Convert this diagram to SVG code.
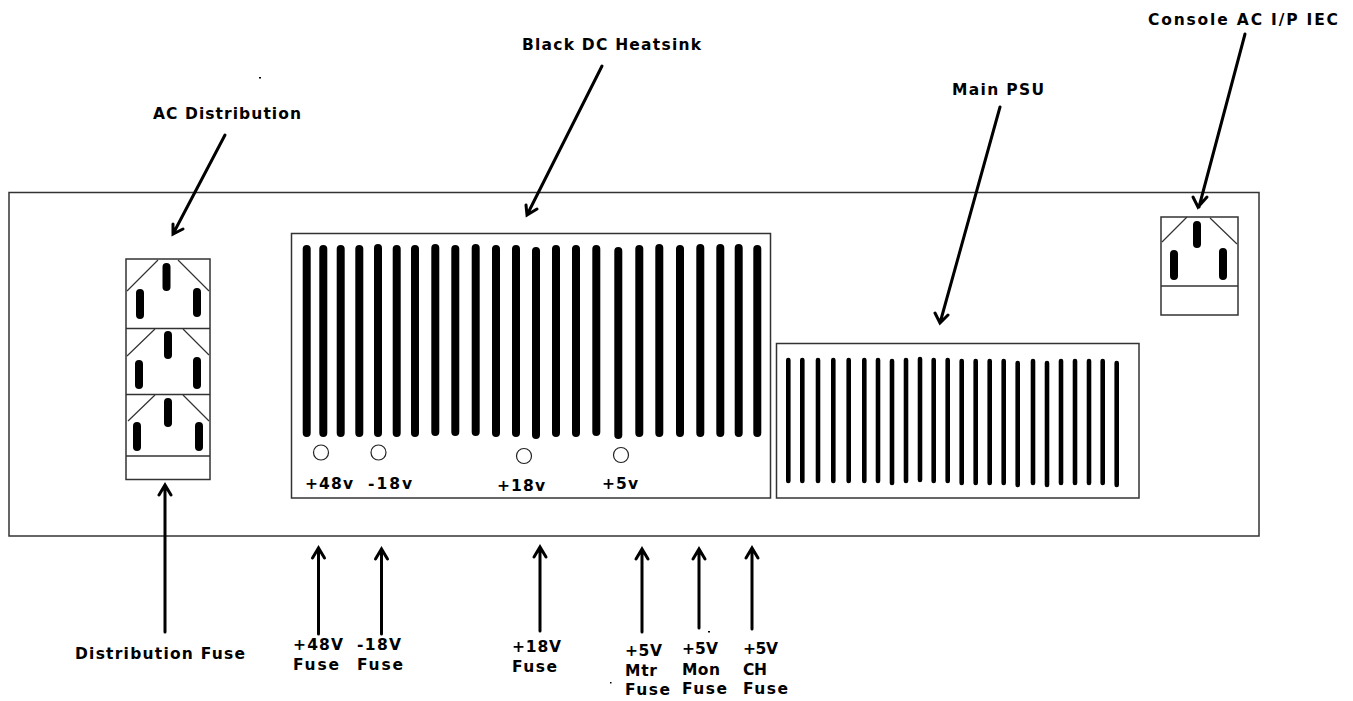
<svg xmlns="http://www.w3.org/2000/svg" width="1353" height="701" viewBox="0 0 1353 701">
<style>
.box{fill:none;stroke:#333;stroke-width:1.5}
.thin{fill:none;stroke:#333;stroke-width:1.2}
.hs{fill:none;stroke:#000;stroke-width:8;stroke-linecap:round}
.pin{fill:none;stroke:#000;stroke-width:8;stroke-linecap:round}
.ps{fill:none;stroke:#000;stroke-width:4.6;stroke-linecap:round}
.arrow{fill:none;stroke:#000;stroke-width:3;stroke-linecap:round;stroke-linejoin:miter}
.hole{fill:#fff;stroke:#222;stroke-width:1.2}
text{font-family:"DejaVu Sans","Liberation Sans",sans-serif;font-weight:700;font-size:15.500px;fill:#000}
</style>
<rect width="1353" height="701" fill="#fff"/>
<g id="chassis"><rect class="box" x="9" y="192.500" width="1250" height="343.500"/></g>
<g id="ac-distribution">
<rect class="box" x="126" y="259" width="84" height="220.500"/>
<path class="box" d="M126 328.500H210M126 394.500H210M126 456H210"/>
<path class="thin" d="M127 291L158 260M178 260L209 291M127 356L155 329M183 329L209 355M128 421L155 395M183 395L209 421"/>
<path class="pin" d="M166.500 267V287M140 293V315M197 292V313M168 335V355M139 364V385M197 361V385M168 402V423M137 426V447M199 426V447"/>
</g>
<g id="heatsink">
<rect class="box" x="291.500" y="233.500" width="479" height="264.500"/>
<path class="hs" d="M306.700 249V433M323.300 249V433M340.700 249V433M359.300 249V433M378 248V433M396.700 249V433M415 249V433M435.300 248V432M455.300 249V432M475.700 248V432M496 249V433M516 249V433M536 251V435M556 249V433M576 249V433M596.300 249V432M618.300 251V435M639.300 249V433M659.300 248V433M680 249V433M700.300 248V433M720.300 248V433M738.700 248V433M757.300 249V433"/>
<circle class="hole" cx="321" cy="452.500" r="7.500"/>
<circle class="hole" cx="378.500" cy="452.500" r="7.500"/>
<circle class="hole" cx="524" cy="456" r="7.500"/>
<circle class="hole" cx="621" cy="455" r="7.500"/>
<text x="305" y="489" textLength="48">+48v</text>
<text x="368" y="489" textLength="44">-18v</text>
<text x="497" y="491" textLength="48">+18v</text>
<text x="602" y="489" textLength="36">+5v</text>
</g>
<g id="main-psu">
<rect class="box" x="776.500" y="343.500" width="362.500" height="154.500"/>
<path class="ps" d="M788.300 360V481M802.300 360V481M818 360V481M833.300 360V481M848.700 360V481M864.300 360V481M878 360V481M892 361V483M906 360V481M920 359V480M933.700 360V481M947.700 360V481M961.700 361V483M975.700 361V483M989.700 361V483M1003.700 361V483M1017.700 363V485M1033 361V483M1047 363V485M1061 361V483M1075 361V483M1089 361V483M1102.700 361V483M1116.700 363V485"/>
</g>
<g id="console-iec">
<rect class="box" x="1161" y="217" width="77" height="98"/>
<path class="box" d="M1161 286H1238"/>
<path class="thin" d="M1162 242L1187 217M1210 218L1237 244"/>
<path class="pin" d="M1197 225V244M1174 254V276M1223 252V276"/>
</g>
<g id="connectors">
<path class="arrow" d="M225 135L173 234M173 224L173 234L183 229"/>
<path class="arrow" d="M602 66L527 215M526 205L527 215L537 209"/>
<path class="arrow" d="M1000 107L940 323M935 313L940 323L948 315"/>
<path class="arrow" d="M1245 34L1199 207M1193 197L1198 207L1207 197"/>
<path class="arrow" d="M165 632V485M159 495L165 485L171 495"/>
<path class="arrow" d="M318.500 634V548M312.500 558L318.500 548L324.500 558"/>
<path class="arrow" d="M381.500 634V549M375.500 559L381.500 549L387.500 559"/>
<path class="arrow" d="M540 631V547M534 557L540 547L546 557"/>
<path class="arrow" d="M642 632V549M636 559L642 549L648 559"/>
<path class="arrow" d="M699 628V549M693 559L699 549L705 559"/>
<path class="arrow" d="M752 629V548M746 558L752 548L758 558"/>
</g>
<g id="labels">
<text x="522" y="50" textLength="179">Black DC Heatsink</text>
<text x="153" y="119" textLength="148">AC Distribution</text>
<text x="952" y="95" textLength="92">Main PSU</text>
<text x="1148" y="25" textLength="190">Console AC I/P IEC</text>
<text x="75" y="659" textLength="170">Distribution Fuse</text>
<text x="293" y="650" textLength="50">+48V</text>
<text x="293" y="670" textLength="46">Fuse</text>
<text x="357" y="650" textLength="44">-18V</text>
<text x="357" y="670" textLength="46">Fuse</text>
<text x="512" y="652" textLength="49">+18V</text>
<text x="512" y="672" textLength="45">Fuse</text>
<text x="625" y="656" textLength="37">+5V</text>
<text x="625" y="676" textLength="32">Mtr</text>
<text x="625" y="695" textLength="45">Fuse</text>
<text x="682" y="654" textLength="36">+5V</text>
<text x="682" y="675" textLength="38">Mon</text>
<text x="682" y="694" textLength="45">Fuse</text>
<text x="743" y="654" textLength="35">+5V</text>
<text x="743" y="675" textLength="24">CH</text>
<text x="743" y="694" textLength="45">Fuse</text>
</g>
<g id="specks" fill="#000">
<rect x="259" y="77" width="2" height="1.500"/>
<rect x="708" y="631" width="2" height="1.500"/>
<rect x="610" y="682" width="1.500" height="1.500"/>
</g>
</svg>
